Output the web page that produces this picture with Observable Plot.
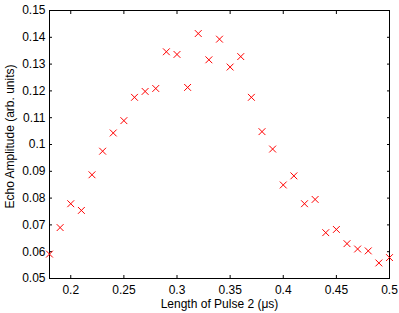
<!DOCTYPE html>
<html><head><meta charset="utf-8">
<script src="https://cdn.jsdelivr.net/npm/d3@7"></script>
<script src="https://cdn.jsdelivr.net/npm/@observablehq/plot@0.6"></script>
<style>body{margin:0;background:#fff} svg{font-family:"Liberation Sans",Arial,sans-serif}</style>
</head><body><div id="chart"></div>
<script>
const pulseLength = [0.18,0.19,0.20,0.21,0.22,0.23,0.24,0.25,0.26,0.27,0.28,0.29,0.30,0.31,0.32,0.33,0.34,0.35,0.36,0.37,0.38,0.39,0.40,0.41,0.42,0.43,0.44,0.45,0.46,0.47,0.48,0.49,0.50];
const echoAmplitude = [0.0591,0.0690,0.0779,0.0754,0.0887,0.0975,0.1043,0.1089,0.1176,0.1198,0.1209,0.1346,0.1336,0.1213,0.1414,0.1316,0.1393,0.1289,0.1328,0.1176,0.1048,0.0983,0.0849,0.0883,0.0779,0.0795,0.0671,0.0683,0.0630,0.0610,0.0603,0.0558,0.0578];
const xTicks = [0.2,0.25,0.3,0.35,0.4,0.45,0.5];
const yTicks = [0.05,0.06,0.07,0.08,0.09,0.1,0.11,0.12,0.13,0.14,0.15];
const xTickLabels = ["0.2","0.25","0.3","0.35","0.4","0.45","0.5"];
const yTickLabels = ["0.05","0.06","0.07","0.08","0.09","0.1","0.11","0.12","0.13","0.14","0.15"];
const xLabel = "Length of Pulse 2 (μs)";
const yLabel = "Echo Amplitude (arb. units)";
const data = pulseLength.map((x, i) => ({x, y: echoAmplitude[i]}));
const chart = Plot.plot({
  width: 399, height: 313,
  marginLeft: 49, marginRight: 10, marginTop: 10, marginBottom: 35,
  style: {fontFamily: '"Liberation Sans", Arial, sans-serif', fontSize: "12px", color: "#000", background: "#fff"},
  x: {domain: [0.18, 0.5]},
  y: {domain: [0.05, 0.15]},
  marks: [
    Plot.frame({stroke: "black", strokeWidth: 1}),
    Plot.axisX(xTicks, {anchor: "bottom", tickSize: -3, tickPadding: 9.5, tickFormat: (d, i) => xTickLabels[i], label: null}),
    Plot.axisX(xTicks, {anchor: "top", tickSize: -3, tickFormat: () => "", label: null}),
    Plot.axisY(yTicks, {anchor: "left", tickSize: -3, tickPadding: 7, tickFormat: (d, i) => yTickLabels[i], label: null}),
    Plot.axisY(yTicks, {anchor: "right", tickSize: -3, tickFormat: () => "", label: null}),
    Plot.text([xLabel], {text: d => d, frameAnchor: "bottom", textAnchor: "middle", lineAnchor: "middle", dy: 25.5, fill: "#000", fontSize: 12}),
    Plot.text([yLabel], {text: d => d, frameAnchor: "left", rotate: -90, textAnchor: "middle", lineAnchor: "middle", dx: -39, dy: -8, fill: "#000", fontSize: 12}),
    Plot.dot(data, {x: "x", y: "y", symbol: "times", r: 3.2, stroke: "#ff0000", strokeWidth: 1})
  ]
});
document.getElementById("chart").appendChild(chart);
</script></body></html>
